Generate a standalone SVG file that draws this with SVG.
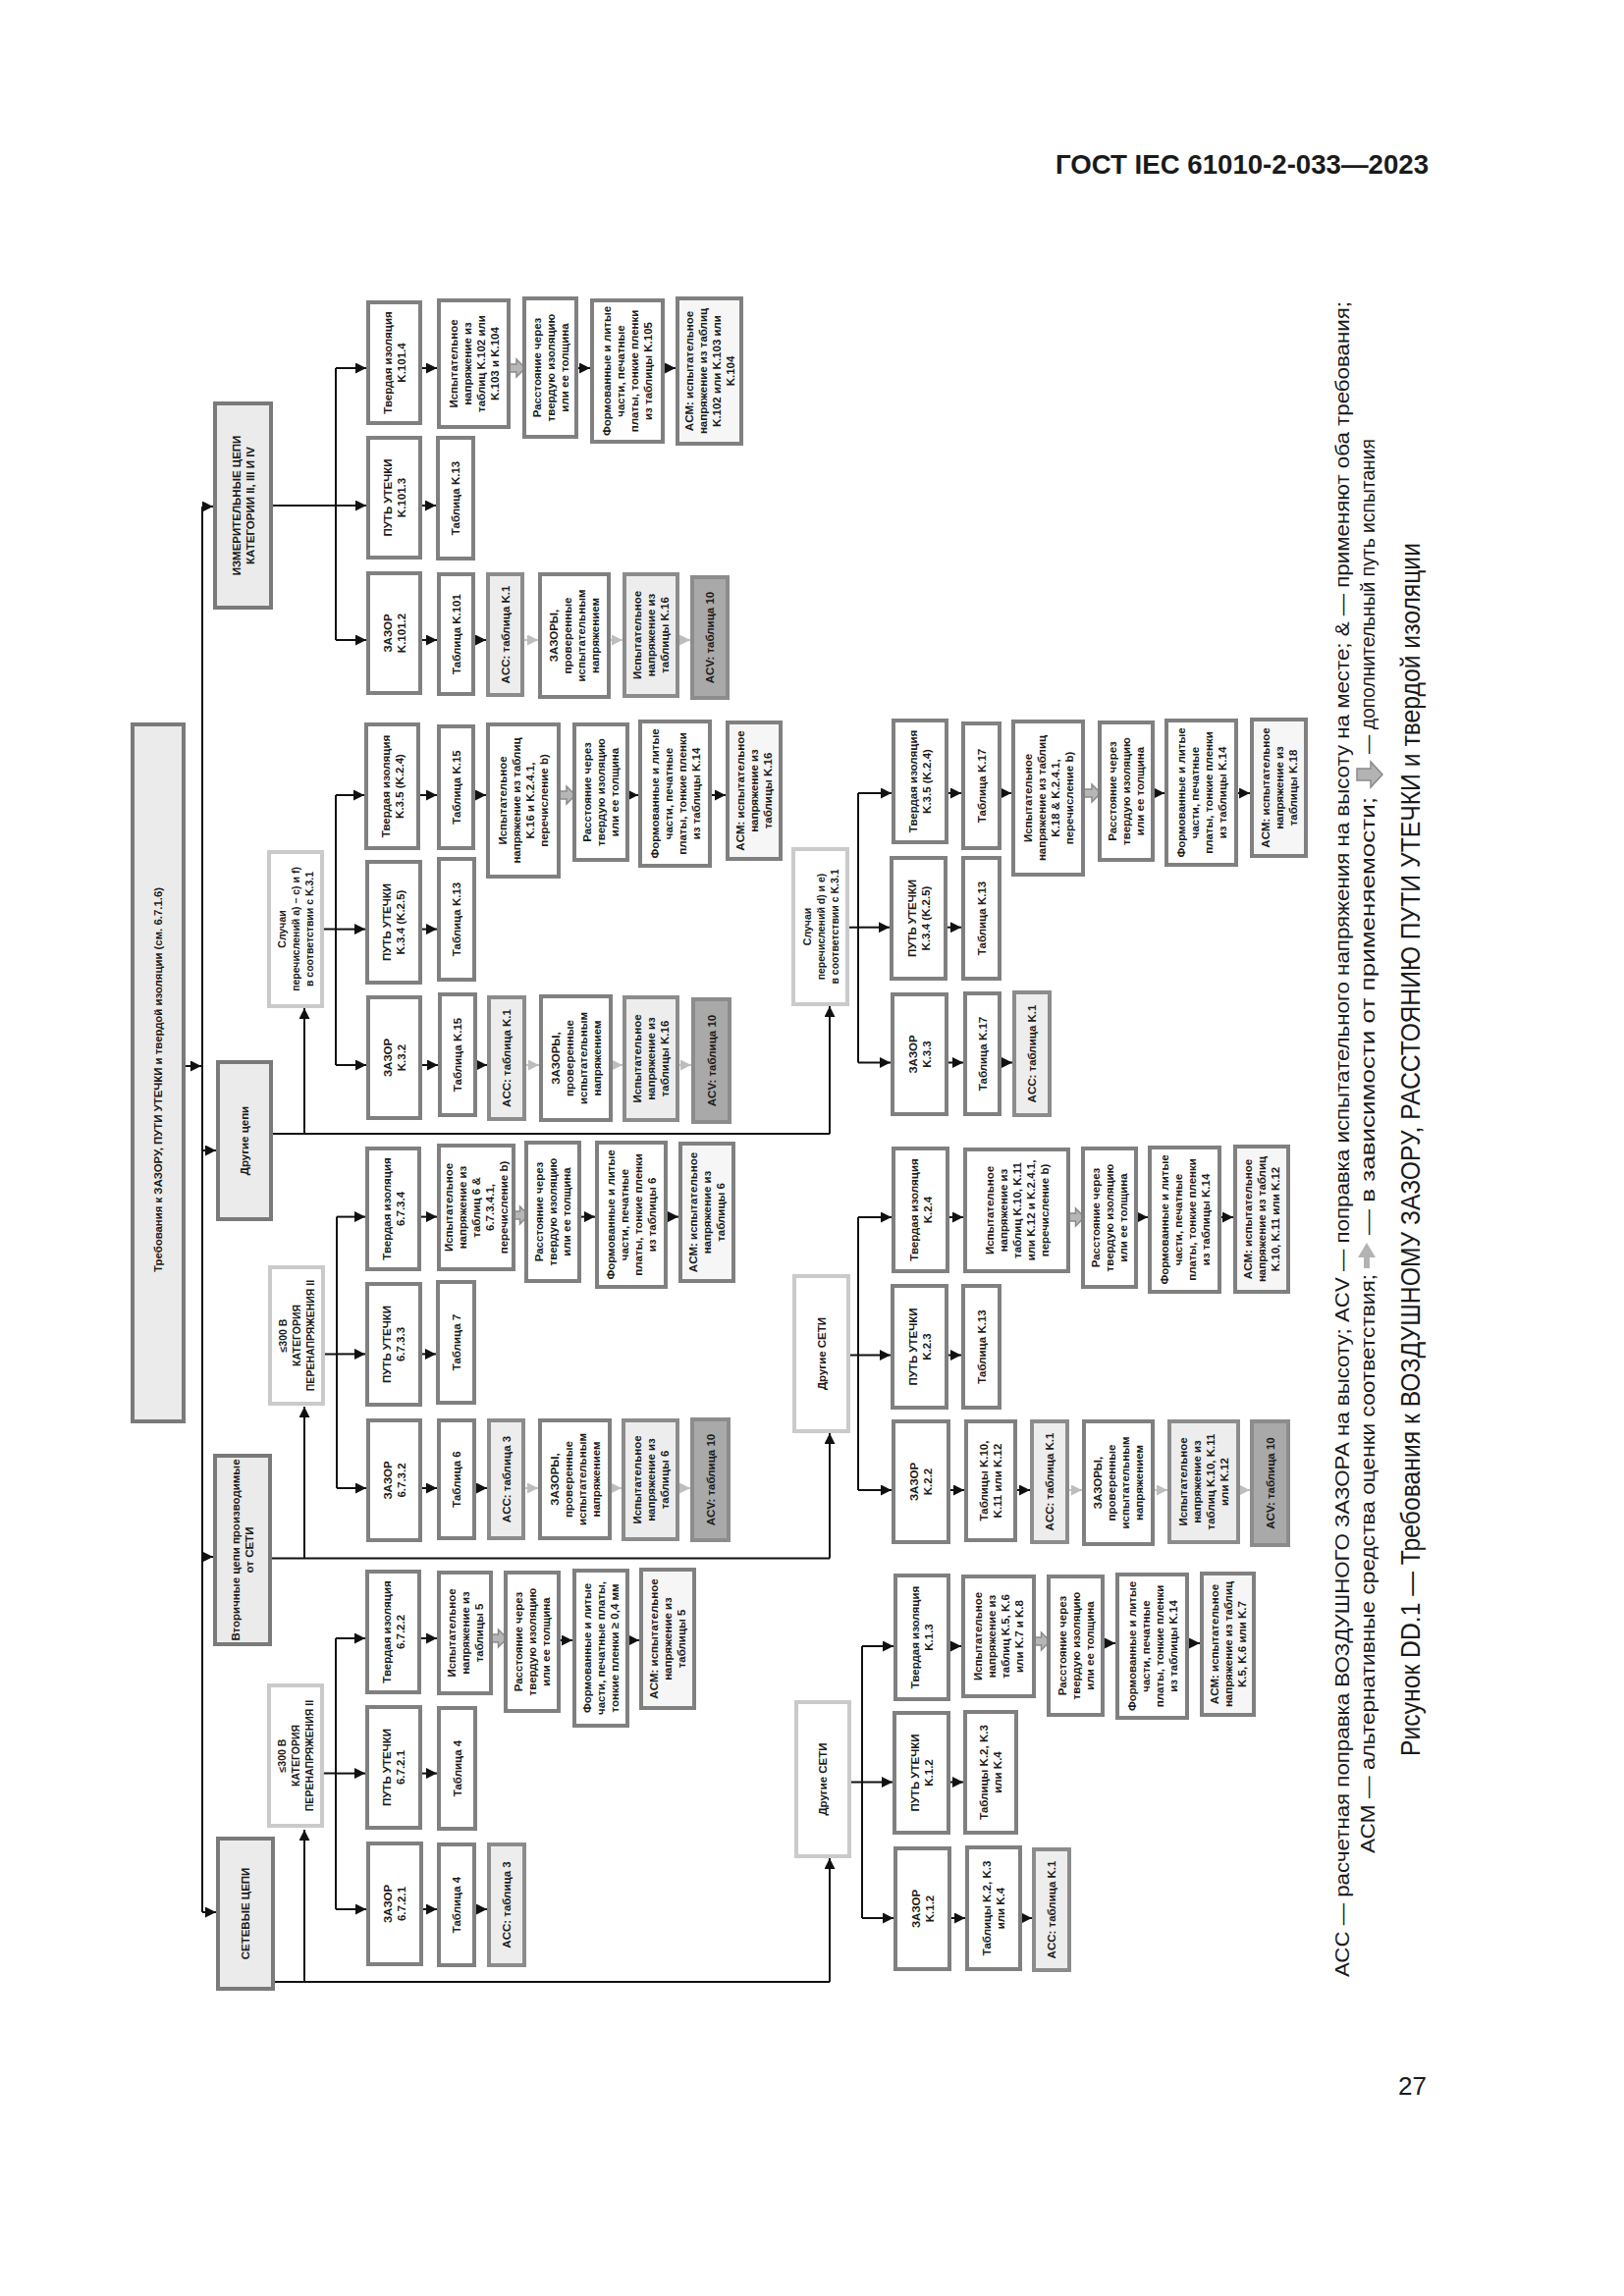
<svg xmlns="http://www.w3.org/2000/svg" xmlns:xlink="http://www.w3.org/1999/xlink" width="1654" height="2339" viewBox="0 0 1654 2339">
<defs>
<style>
.b{fill:#fff;stroke:#808080;stroke-width:4}
.a{fill:#f6f6f6;stroke:#808080;stroke-width:4}
.l{fill:#ededed;stroke:#8c8c8c;stroke-width:4}
.c{fill:#ebebeb;stroke:#7a7a7a;stroke-width:4}
.s{fill:#fff;stroke:#cacaca;stroke-width:4}
.v{fill:#a9a9a9;stroke:#8c8c8c;stroke-width:4}
.t{font-family:"Liberation Sans",Arial,sans-serif;font-weight:bold;font-size:11.5px;text-anchor:middle;fill:#1a1a1a}
.ts{font-size:10.5px}
.k{stroke:#111;stroke-width:2;fill:none}
.ka{stroke:#111;stroke-width:2;fill:none;marker-end:url(#ah)}
.ga{stroke:#c4c4c4;stroke-width:2;fill:none;marker-end:url(#gh)}
.bg{fill:#b6b6b6;stroke:#8a8a8a;stroke-width:1.5}
.cap{font-family:"Liberation Sans Narrow","Liberation Sans",Arial,sans-serif;fill:#1a1a1a}
</style>
<marker id="ah" markerUnits="userSpaceOnUse" markerWidth="12" markerHeight="11" refX="11" refY="5.5" orient="auto"><path d="M0,0 L11,5.5 L0,11 Z" fill="#111"/></marker>
<marker id="gh" markerUnits="userSpaceOnUse" markerWidth="12" markerHeight="11" refX="11" refY="5.5" orient="auto"><path d="M0,0 L11,5.5 L0,11 Z" fill="#bdbdbd"/></marker>
<path id="ba" d="M-9,-4 H0 V-9 L9,0 L0,9 V4 H-9 Z"/>
</defs>
<rect width="1654" height="2339" fill="#fff"/>

<text x="1075" y="177" font-family="Liberation Sans,Arial,sans-serif" font-weight="bold" font-size="28" textLength="380" lengthAdjust="spacingAndGlyphs" fill="#1a1a1a">ГОСТ IEC 61010-2-033—2023</text>
<text x="1453" y="2134" text-anchor="end" font-family="Liberation Sans,Arial,sans-serif" font-size="26" fill="#1a1a1a">27</text>

<g id="connectors">
<path class="k" d="M206,516 V1948"/>
<path class="ka" d="M187,1086 H205"/>
<path class="ka" d="M206,516 H217"/>
<path class="ka" d="M206,1172 H220"/>
<path class="ka" d="M206,1586 H217"/>
<path class="ka" d="M206,1948 H220"/>
<path class="k" d="M276,515 H342 M342,375 V652"/>
<path class="ka" d="M342,375 H373"/>
<path class="ka" d="M342,515 H373"/>
<path class="ka" d="M342,652 H373"/>
<path class="ka" d="M428,375 H445"/>
<use xlink:href="#ba" class="bg" x="526" y="375"/>
<path class="ka" d="M587,375 H601"/>
<path class="ka" d="M675,375 H688"/>
<path class="ka" d="M428,515 H444"/>
<path class="ka" d="M428,652 H445"/>
<path class="ka" d="M482,652 H495"/>
<path class="ga" d="M532,652 H548"/>
<path class="ga" d="M620,652 H634"/>
<path class="ga" d="M690,652 H703"/>
<path class="k" d="M276,1155 H845"/>
<path class="ka" d="M310,1155 V1027"/>
<path class="ka" d="M845,1155 V1025"/>
<path class="k" d="M328,946.6 H342 M342,810 V1085"/>
<path class="ka" d="M342,810 H371"/>
<path class="ka" d="M342,946.6 H372"/>
<path class="ka" d="M342,1085 H373"/>
<path class="ka" d="M426,810 H445"/>
<path class="ka" d="M482,810 H495"/>
<use xlink:href="#ba" class="bg" x="577" y="810"/>
<path class="ka" d="M639,810 H650"/>
<path class="ka" d="M723,810 H739"/>
<path class="ka" d="M428,946.6 H445"/>
<path class="ka" d="M428,1085 H446"/>
<path class="ka" d="M484,1085 H496"/>
<path class="ga" d="M534,1085 H549"/>
<path class="ga" d="M622,1085 H634"/>
<path class="ga" d="M690,1085 H704"/>
<path class="k" d="M863,944.7 H874 M874,808 V1082.5"/>
<path class="ka" d="M874,808 H908"/>
<path class="ka" d="M874,944.7 H906"/>
<path class="ka" d="M874,1082.5 H907"/>
<path class="ka" d="M964,808 H979"/>
<path class="ka" d="M1018,808 H1030"/>
<use xlink:href="#ba" class="bg" x="1112" y="808"/>
<path class="ka" d="M1174,808 H1186"/>
<path class="ka" d="M1259,808 H1273"/>
<path class="ka" d="M963,944.7 H979"/>
<path class="ka" d="M964,1082.5 H981"/>
<path class="ka" d="M1018,1082.5 H1031"/>
<path class="k" d="M275,1587.5 H845"/>
<path class="ka" d="M310,1587.5 V1433"/>
<path class="ka" d="M845,1587.5 V1460"/>
<path class="k" d="M329,1379.4 H343 M343,1239.6 V1516"/>
<path class="ka" d="M343,1239.6 H372"/>
<path class="ka" d="M343,1379.4 H372"/>
<path class="ka" d="M343,1516 H373"/>
<path class="ka" d="M427,1239.6 H445"/>
<use xlink:href="#ba" class="bg" x="529.5" y="1238"/>
<path class="ka" d="M590,1239.6 H606"/>
<path class="ka" d="M678,1239.6 H691"/>
<path class="ka" d="M428,1379.4 H444"/>
<path class="ka" d="M428,1516 H445"/>
<path class="ka" d="M483,1516 H496"/>
<path class="ga" d="M533,1516 H548"/>
<path class="ga" d="M621,1516 H633"/>
<path class="ga" d="M690,1516 H703"/>
<path class="k" d="M864,1380.5 H874 M874,1240 V1518"/>
<path class="ka" d="M874,1240 H908"/>
<path class="ka" d="M874,1380.5 H907"/>
<path class="ka" d="M874,1518 H908"/>
<path class="ka" d="M965,1240 H981"/>
<use xlink:href="#ba" class="bg" x="1095.5" y="1240"/>
<path class="ka" d="M1157,1240 H1169"/>
<path class="ka" d="M1242,1240 H1256"/>
<path class="ka" d="M964,1380.5 H979"/>
<path class="ka" d="M966,1518 H982"/>
<path class="ka" d="M1034,1518 H1049"/>
<path class="ga" d="M1087,1518 H1102"/>
<path class="ga" d="M1174,1518 H1189"/>
<path class="ga" d="M1261,1518 H1273"/>
<path class="k" d="M278,2019 H845"/>
<path class="ka" d="M310,2019 V1864"/>
<path class="ka" d="M845,2019 V1893"/>
<path class="k" d="M328,1806.6 H342 M342,1669 V1945"/>
<path class="ka" d="M342,1669 H372"/>
<path class="ka" d="M342,1806.6 H372"/>
<path class="ka" d="M342,1945 H373"/>
<path class="ka" d="M427,1669 H445"/>
<use xlink:href="#ba" class="bg" x="507.5" y="1669"/>
<path class="ka" d="M569,1671 H583"/>
<path class="ka" d="M639,1671 H651"/>
<path class="ka" d="M428,1806.6 H445"/>
<path class="ka" d="M429,1945 H445"/>
<path class="ka" d="M483,1945 H496"/>
<path class="k" d="M865,1815.5 H878 M878,1677 V1954"/>
<path class="ka" d="M878,1677 H910"/>
<path class="ka" d="M878,1815.5 H909"/>
<path class="ka" d="M878,1954 H910"/>
<path class="ka" d="M966,1677 H979"/>
<use xlink:href="#ba" class="bg" x="1060.5" y="1672"/>
<path class="ka" d="M1123,1674 H1136"/>
<path class="ka" d="M1209,1674 H1222"/>
<path class="ka" d="M966,1815.5 H981"/>
<path class="ka" d="M967,1954 H983"/>
<path class="ka" d="M1039,1954 H1051"/>
</g>

<g id="R"><rect class="c" x="135" y="738" width="52" height="710"/><text class="t ts" transform="translate(161,1100) rotate(-90)"><tspan x="0" y="4" textLength="392" lengthAdjust="spacingAndGlyphs">Требования к ЗАЗОРУ, ПУТИ УТЕЧКИ и твердой изоляции (см. 6.7.1.6)</tspan></text></g>

<g id="M0"><rect class="c" x="219" y="411" width="57" height="208"/><text class="t" transform="translate(247.5,515) rotate(-90)"><tspan x="0" y="-3">ИЗМЕРИТЕЛЬНЫЕ ЦЕПИ</tspan><tspan x="0" y="11">КАТЕГОРИИ II, III И IV</tspan></text></g>
<g id="M1"><rect class="b" x="375" y="308" width="53" height="123"/><text class="t" transform="translate(401.5,369.5) rotate(-90)"><tspan x="0" y="-3">Твердая изоляция</tspan><tspan x="0" y="11">K.101.4</tspan></text></g>
<g id="M2"><rect class="b" x="447" y="306" width="71" height="129"/><text class="t" transform="translate(482.5,370.5) rotate(-90)"><tspan x="0" y="-17">Испытательное</tspan><tspan x="0" y="-3">напряжение из</tspan><tspan x="0" y="11">таблиц K.102 или</tspan><tspan x="0" y="25">K.103 и K.104</tspan></text></g>
<g id="M3"><rect class="b" x="534" y="304" width="53" height="141"/><text class="t" transform="translate(560.5,374.5) rotate(-90)"><tspan x="0" y="-10">Расстояние через</tspan><tspan x="0" y="4">твердую изоляцию</tspan><tspan x="0" y="18">или ее толщина</tspan></text></g>
<g id="M4"><rect class="b" x="603" y="306" width="72" height="144"/><text class="t" transform="translate(639,378) rotate(-90)"><tspan x="0" y="-17">Формованные и литые</tspan><tspan x="0" y="-3">части, печатные</tspan><tspan x="0" y="11">платы, тонкие пленки</tspan><tspan x="0" y="25">из таблицы K.105</tspan></text></g>
<g id="M5"><rect class="a" x="690" y="304" width="65" height="148"/><text class="t" transform="translate(722.5,378) rotate(-90)"><tspan x="0" y="-17">ACM: испытательное</tspan><tspan x="0" y="-3">напряжение из таблиц</tspan><tspan x="0" y="11">K.102 или K.103 или</tspan><tspan x="0" y="25">K.104</tspan></text></g>
<g id="M6"><rect class="b" x="375" y="446" width="53" height="122"/><text class="t" transform="translate(401.5,507) rotate(-90)"><tspan x="0" y="-3">ПУТЬ УТЕЧКИ</tspan><tspan x="0" y="11">K.101.3</tspan></text></g>
<g id="M7"><rect class="b" x="446" y="446" width="36" height="123"/><text class="t" transform="translate(464,507.5) rotate(-90)"><tspan x="0" y="4">Таблица K.13</tspan></text></g>
<g id="M8"><rect class="b" x="375" y="584" width="53" height="122"/><text class="t" transform="translate(401.5,645) rotate(-90)"><tspan x="0" y="-3">ЗАЗОР</tspan><tspan x="0" y="11">K.101.2</tspan></text></g>
<g id="M9"><rect class="b" x="447" y="585" width="35" height="122"/><text class="t" transform="translate(464.5,646) rotate(-90)"><tspan x="0" y="4">Таблица K.101</tspan></text></g>
<g id="M10"><rect class="l" x="497" y="585" width="35" height="123"/><text class="t" transform="translate(514.5,646.5) rotate(-90)"><tspan x="0" y="4">ACC: таблица K.1</tspan></text></g>
<g id="M11"><rect class="b" x="550" y="585" width="70" height="125"/><text class="t" transform="translate(585,647.5) rotate(-90)"><tspan x="0" y="-17">ЗАЗОРЫ,</tspan><tspan x="0" y="-3">проверенные</tspan><tspan x="0" y="11">испытательным</tspan><tspan x="0" y="25">напряжением</tspan></text></g>
<g id="M12"><rect class="l" x="636" y="585" width="54" height="124"/><text class="t" transform="translate(663,647) rotate(-90)"><tspan x="0" y="-10">Испытательное</tspan><tspan x="0" y="4">напряжение из</tspan><tspan x="0" y="18">таблицы K.16</tspan></text></g>
<g id="M13"><rect class="v" x="705" y="588" width="36" height="123"/><text class="t" transform="translate(723,649.5) rotate(-90)"><tspan x="0" y="4">ACV: таблица 10</tspan></text></g>

<g id="D0"><rect class="c" x="222" y="1082" width="54" height="160"/><text class="t" transform="translate(249,1162) rotate(-90)"><tspan x="0" y="4">Другие цепи</tspan></text></g>
<g id="D1"><rect class="s" x="274" y="868" width="54" height="157"/><text class="t ts" transform="translate(301,946.5) rotate(-90)"><tspan x="0" y="-10">Случаи</tspan><tspan x="0" y="4">перечислений a) – c) и f)</tspan><tspan x="0" y="18">в соответствии с K.3.1</tspan></text></g>
<g id="D2"><rect class="b" x="373" y="738" width="53" height="126"/><text class="t" transform="translate(399.5,801) rotate(-90)"><tspan x="0" y="-3">Твердая изоляция</tspan><tspan x="0" y="11">K.3.5 (K.2.4)</tspan></text></g>
<g id="D3"><rect class="b" x="447" y="740" width="35" height="124"/><text class="t" transform="translate(464.5,802) rotate(-90)"><tspan x="0" y="4">Таблица K.15</tspan></text></g>
<g id="D4"><rect class="b" x="497" y="738" width="72" height="155"/><text class="t" transform="translate(533,815.5) rotate(-90)"><tspan x="0" y="-17">Испытательное</tspan><tspan x="0" y="-3">напряжение из таблиц</tspan><tspan x="0" y="11">K.16 и K.2.4.1,</tspan><tspan x="0" y="25">перечисление b)</tspan></text></g>
<g id="D5"><rect class="b" x="585" y="738" width="54" height="138"/><text class="t" transform="translate(612,807) rotate(-90)"><tspan x="0" y="-10">Расстояние через</tspan><tspan x="0" y="4">твердую изоляцию</tspan><tspan x="0" y="18">или ее толщина</tspan></text></g>
<g id="D6"><rect class="b" x="652" y="735" width="71" height="147"/><text class="t" transform="translate(687.5,808.5) rotate(-90)"><tspan x="0" y="-17">Формованные и литые</tspan><tspan x="0" y="-3">части, печатные</tspan><tspan x="0" y="11">платы, тонкие пленки</tspan><tspan x="0" y="25">из таблицы K.14</tspan></text></g>
<g id="D7"><rect class="a" x="741" y="736" width="54" height="139"/><text class="t" transform="translate(768,805.5) rotate(-90)"><tspan x="0" y="-10">ACM: испытательное</tspan><tspan x="0" y="4">напряжение из</tspan><tspan x="0" y="18">таблицы K.16</tspan></text></g>
<g id="D8"><rect class="b" x="374" y="878" width="54" height="123"/><text class="t" transform="translate(401,939.5) rotate(-90)"><tspan x="0" y="-3">ПУТЬ УТЕЧКИ</tspan><tspan x="0" y="11">K.3.4 (K.2.5)</tspan></text></g>
<g id="D9"><rect class="b" x="447" y="875" width="36" height="123"/><text class="t" transform="translate(465,936.5) rotate(-90)"><tspan x="0" y="4">Таблица K.13</tspan></text></g>
<g id="D10"><rect class="b" x="375" y="1016" width="53" height="123"/><text class="t" transform="translate(401.5,1077.5) rotate(-90)"><tspan x="0" y="-3">ЗАЗОР</tspan><tspan x="0" y="11">K.3.2</tspan></text></g>
<g id="D11"><rect class="b" x="448" y="1013" width="36" height="123"/><text class="t" transform="translate(466,1074.5) rotate(-90)"><tspan x="0" y="4">Таблица K.15</tspan></text></g>
<g id="D12"><rect class="l" x="498" y="1016" width="36" height="124"/><text class="t" transform="translate(516,1078) rotate(-90)"><tspan x="0" y="4">ACC: таблица K.1</tspan></text></g>
<g id="D13"><rect class="b" x="551" y="1015" width="71" height="126"/><text class="t" transform="translate(586.5,1078) rotate(-90)"><tspan x="0" y="-17">ЗАЗОРЫ,</tspan><tspan x="0" y="-3">проверенные</tspan><tspan x="0" y="11">испытательным</tspan><tspan x="0" y="25">напряжением</tspan></text></g>
<g id="D14"><rect class="l" x="636" y="1016" width="54" height="125"/><text class="t" transform="translate(663,1078.5) rotate(-90)"><tspan x="0" y="-10">Испытательное</tspan><tspan x="0" y="4">напряжение из</tspan><tspan x="0" y="18">таблицы K.16</tspan></text></g>
<g id="D15"><rect class="v" x="706" y="1018" width="37" height="125"/><text class="t" transform="translate(724.5,1080.5) rotate(-90)"><tspan x="0" y="4">ACV: таблица 10</tspan></text></g>
<g id="D16"><rect class="s" x="808" y="865" width="55" height="158"/><text class="t ts" transform="translate(835.5,944) rotate(-90)"><tspan x="0" y="-10">Случаи</tspan><tspan x="0" y="4">перечислений d) и e)</tspan><tspan x="0" y="18">в соответствии с K.3.1</tspan></text></g>
<g id="D17"><rect class="b" x="910" y="734" width="54" height="124"/><text class="t" transform="translate(937,796) rotate(-90)"><tspan x="0" y="-3">Твердая изоляция</tspan><tspan x="0" y="11">K.3.5 (K.2.4)</tspan></text></g>
<g id="D18"><rect class="b" x="981" y="737" width="37" height="127"/><text class="t" transform="translate(999.5,800.5) rotate(-90)"><tspan x="0" y="4">Таблица K.17</tspan></text></g>
<g id="D19"><rect class="b" x="1032" y="735" width="71" height="156"/><text class="t" transform="translate(1067.5,813) rotate(-90)"><tspan x="0" y="-17">Испытательное</tspan><tspan x="0" y="-3">напряжение из таблиц</tspan><tspan x="0" y="11">K.18 &amp; K.2.4.1,</tspan><tspan x="0" y="25">перечисление b)</tspan></text></g>
<g id="D20"><rect class="b" x="1120" y="736" width="54" height="140"/><text class="t" transform="translate(1147,806) rotate(-90)"><tspan x="0" y="-10">Расстояние через</tspan><tspan x="0" y="4">твердую изоляцию</tspan><tspan x="0" y="18">или ее толщина</tspan></text></g>
<g id="D21"><rect class="b" x="1188" y="734" width="71" height="147"/><text class="t" transform="translate(1223.5,807.5) rotate(-90)"><tspan x="0" y="-17">Формованные и литые</tspan><tspan x="0" y="-3">части, печатные</tspan><tspan x="0" y="11">платы, тонкие пленки</tspan><tspan x="0" y="25">из таблицы K.14</tspan></text></g>
<g id="D22"><rect class="a" x="1275" y="733" width="55" height="139"/><text class="t" transform="translate(1302.5,802.5) rotate(-90)"><tspan x="0" y="-10">ACM: испытательное</tspan><tspan x="0" y="4">напряжение из</tspan><tspan x="0" y="18">таблицы K.18</tspan></text></g>
<g id="D23"><rect class="b" x="908" y="874" width="55" height="123"/><text class="t" transform="translate(935.5,935.5) rotate(-90)"><tspan x="0" y="-3">ПУТЬ УТЕЧКИ</tspan><tspan x="0" y="11">K.3.4 (K.2.5)</tspan></text></g>
<g id="D24"><rect class="b" x="981" y="874" width="37" height="123"/><text class="t" transform="translate(999.5,935.5) rotate(-90)"><tspan x="0" y="4">Таблица K.13</tspan></text></g>
<g id="D25"><rect class="b" x="909" y="1013" width="55" height="122"/><text class="t" transform="translate(936.5,1074) rotate(-90)"><tspan x="0" y="-3">ЗАЗОР</tspan><tspan x="0" y="11">K.3.3</tspan></text></g>
<g id="D26"><rect class="b" x="983" y="1012" width="35" height="123"/><text class="t" transform="translate(1000.5,1073.5) rotate(-90)"><tspan x="0" y="4">Таблица K.17</tspan></text></g>
<g id="D27"><rect class="l" x="1033" y="1011" width="36" height="125"/><text class="t" transform="translate(1051,1073.5) rotate(-90)"><tspan x="0" y="4">ACC: таблица K.1</tspan></text></g>

<g id="S0"><rect class="c" x="219" y="1483" width="56" height="192"/><text class="t" transform="translate(247,1579) rotate(-90)"><tspan x="0" y="-3">Вторичные цепи производимые</tspan><tspan x="0" y="11">от СЕТИ</tspan></text></g>
<g id="S1"><rect class="s" x="275" y="1291" width="54" height="139"/><text class="t ts" transform="translate(302,1360.5) rotate(-90)"><tspan x="0" y="-10">≤300 В</tspan><tspan x="0" y="4">КАТЕГОРИЯ</tspan><tspan x="0" y="18">ПЕРЕНАПРЯЖЕНИЯ II</tspan></text></g>
<g id="S2"><rect class="b" x="374" y="1170" width="53" height="123"/><text class="t" transform="translate(400.5,1231.5) rotate(-90)"><tspan x="0" y="-3">Твердая изоляция</tspan><tspan x="0" y="11">6.7.3.4</tspan></text></g>
<g id="S3"><rect class="b" x="447" y="1167" width="76" height="126"/><text class="t" transform="translate(485,1230) rotate(-90)"><tspan x="0" y="-24">Испытательное</tspan><tspan x="0" y="-10">напряжение из</tspan><tspan x="0" y="4">таблиц 6 &amp;</tspan><tspan x="0" y="18">6.7.3.4.1,</tspan><tspan x="0" y="32">перечисление b)</tspan></text></g>
<g id="S4"><rect class="b" x="536" y="1164" width="54" height="141"/><text class="t" transform="translate(563,1234.5) rotate(-90)"><tspan x="0" y="-10">Расстояние через</tspan><tspan x="0" y="4">твердую изоляцию</tspan><tspan x="0" y="18">или ее толщина</tspan></text></g>
<g id="S5"><rect class="b" x="608" y="1164" width="70" height="147"/><text class="t" transform="translate(643,1237.5) rotate(-90)"><tspan x="0" y="-17">Формованные и литые</tspan><tspan x="0" y="-3">части, печатные</tspan><tspan x="0" y="11">платы, тонкие пленки</tspan><tspan x="0" y="25">из таблицы 6</tspan></text></g>
<g id="S6"><rect class="a" x="693" y="1165" width="54" height="140"/><text class="t" transform="translate(720,1235) rotate(-90)"><tspan x="0" y="-10">ACM: испытательное</tspan><tspan x="0" y="4">напряжение из</tspan><tspan x="0" y="18">таблицы 6</tspan></text></g>
<g id="S7"><rect class="b" x="374" y="1308" width="54" height="123"/><text class="t" transform="translate(401,1369.5) rotate(-90)"><tspan x="0" y="-3">ПУТЬ УТЕЧКИ</tspan><tspan x="0" y="11">6.7.3.3</tspan></text></g>
<g id="S8"><rect class="b" x="446" y="1306" width="37" height="123"/><text class="t" transform="translate(464.5,1367.5) rotate(-90)"><tspan x="0" y="4">Таблица 7</tspan></text></g>
<g id="S9"><rect class="b" x="375" y="1447" width="53" height="122"/><text class="t" transform="translate(401.5,1508) rotate(-90)"><tspan x="0" y="-3">ЗАЗОР</tspan><tspan x="0" y="11">6.7.3.2</tspan></text></g>
<g id="S10"><rect class="b" x="447" y="1447" width="36" height="120"/><text class="t" transform="translate(465,1507) rotate(-90)"><tspan x="0" y="4">Таблица 6</tspan></text></g>
<g id="S11"><rect class="l" x="498" y="1447" width="35" height="120"/><text class="t" transform="translate(515.5,1507) rotate(-90)"><tspan x="0" y="4">ACC: таблица 3</tspan></text></g>
<g id="S12"><rect class="b" x="550" y="1447" width="71" height="120"/><text class="t" transform="translate(585.5,1507) rotate(-90)"><tspan x="0" y="-17">ЗАЗОРЫ,</tspan><tspan x="0" y="-3">проверенные</tspan><tspan x="0" y="11">испытательным</tspan><tspan x="0" y="25">напряжением</tspan></text></g>
<g id="S13"><rect class="l" x="635" y="1447" width="55" height="121"/><text class="t" transform="translate(662.5,1507.5) rotate(-90)"><tspan x="0" y="-10">Испытательное</tspan><tspan x="0" y="4">напряжение из</tspan><tspan x="0" y="18">таблицы 6</tspan></text></g>
<g id="S14"><rect class="v" x="705" y="1446" width="37" height="123"/><text class="t" transform="translate(723.5,1507.5) rotate(-90)"><tspan x="0" y="4">ACV: таблица 10</tspan></text></g>
<g id="S15"><rect class="s" x="809" y="1300" width="55" height="158"/><text class="t" transform="translate(836.5,1379) rotate(-90)"><tspan x="0" y="4">Другие СЕТИ</tspan></text></g>
<g id="S16"><rect class="b" x="910" y="1170" width="55" height="125"/><text class="t" transform="translate(937.5,1232.5) rotate(-90)"><tspan x="0" y="-3">Твердая изоляция</tspan><tspan x="0" y="11">K.2.4</tspan></text></g>
<g id="S17"><rect class="b" x="983" y="1171" width="105" height="124"/><text class="t" transform="translate(1035.5,1233) rotate(-90)"><tspan x="0" y="-24">Испытательное</tspan><tspan x="0" y="-10">напряжение из</tspan><tspan x="0" y="4">таблиц K.10, K.11</tspan><tspan x="0" y="18">или K.12 и K.2.4.1,</tspan><tspan x="0" y="32">перечисление b)</tspan></text></g>
<g id="S18"><rect class="b" x="1103" y="1170" width="54" height="141"/><text class="t" transform="translate(1130,1240.5) rotate(-90)"><tspan x="0" y="-10">Расстояние через</tspan><tspan x="0" y="4">твердую изоляцию</tspan><tspan x="0" y="18">или ее толщина</tspan></text></g>
<g id="S19"><rect class="b" x="1171" y="1169" width="71" height="147"/><text class="t" transform="translate(1206.5,1242.5) rotate(-90)"><tspan x="0" y="-17">Формованные и литые</tspan><tspan x="0" y="-3">части, печатные</tspan><tspan x="0" y="11">платы, тонкие пленки</tspan><tspan x="0" y="25">из таблицы K.14</tspan></text></g>
<g id="S20"><rect class="a" x="1258" y="1168" width="54" height="148"/><text class="t" transform="translate(1285,1242) rotate(-90)"><tspan x="0" y="-10">ACM: испытательное</tspan><tspan x="0" y="4">напряжение из таблиц</tspan><tspan x="0" y="18">K.10, K.11 или K.12</tspan></text></g>
<g id="S21"><rect class="b" x="909" y="1310" width="55" height="124"/><text class="t" transform="translate(936.5,1372) rotate(-90)"><tspan x="0" y="-3">ПУТЬ УТЕЧКИ</tspan><tspan x="0" y="11">K.2.3</tspan></text></g>
<g id="S22"><rect class="b" x="981" y="1310" width="37" height="124"/><text class="t" transform="translate(999.5,1372) rotate(-90)"><tspan x="0" y="4">Таблица K.13</tspan></text></g>
<g id="S23"><rect class="b" x="910" y="1448" width="56" height="123"/><text class="t" transform="translate(938,1509.5) rotate(-90)"><tspan x="0" y="-3">ЗАЗОР</tspan><tspan x="0" y="11">K.2.2</tspan></text></g>
<g id="S24"><rect class="b" x="984" y="1448" width="50" height="121"/><text class="t" transform="translate(1009,1508.5) rotate(-90)"><tspan x="0" y="-3">Таблицы K.10,</tspan><tspan x="0" y="11">K.11 или K.12</tspan></text></g>
<g id="S25"><rect class="l" x="1051" y="1448" width="36" height="123"/><text class="t" transform="translate(1069,1509.5) rotate(-90)"><tspan x="0" y="4">ACC: таблица K.1</tspan></text></g>
<g id="S26"><rect class="b" x="1104" y="1448" width="70" height="125"/><text class="t" transform="translate(1139,1510.5) rotate(-90)"><tspan x="0" y="-17">ЗАЗОРЫ,</tspan><tspan x="0" y="-3">проверенные</tspan><tspan x="0" y="11">испытательным</tspan><tspan x="0" y="25">напряжением</tspan></text></g>
<g id="S27"><rect class="l" x="1191" y="1448" width="70" height="123"/><text class="t" transform="translate(1226,1509.5) rotate(-90)"><tspan x="0" y="-17">Испытательное</tspan><tspan x="0" y="-3">напряжение из</tspan><tspan x="0" y="11">таблиц K.10, K.11</tspan><tspan x="0" y="25">или K.12</tspan></text></g>
<g id="S28"><rect class="v" x="1275" y="1448" width="37" height="126"/><text class="t" transform="translate(1293.5,1511) rotate(-90)"><tspan x="0" y="4">ACV: таблица 10</tspan></text></g>

<g id="N0"><rect class="c" x="222" y="1873" width="56" height="153"/><text class="t" transform="translate(250,1949.5) rotate(-90)"><tspan x="0" y="4">СЕТЕВЫЕ ЦЕПИ</tspan></text></g>
<g id="N1"><rect class="s" x="274" y="1717" width="54" height="143"/><text class="t ts" transform="translate(301,1788.5) rotate(-90)"><tspan x="0" y="-10">≤300 В</tspan><tspan x="0" y="4">КАТЕГОРИЯ</tspan><tspan x="0" y="18">ПЕРЕНАПРЯЖЕНИЯ II</tspan></text></g>
<g id="N2"><rect class="b" x="374" y="1601" width="53" height="123"/><text class="t" transform="translate(400.5,1662.5) rotate(-90)"><tspan x="0" y="-3">Твердая изоляция</tspan><tspan x="0" y="11">6.7.2.2</tspan></text></g>
<g id="N3"><rect class="b" x="447" y="1602" width="53" height="123"/><text class="t" transform="translate(473.5,1663.5) rotate(-90)"><tspan x="0" y="-10">Испытательное</tspan><tspan x="0" y="4">напряжение из</tspan><tspan x="0" y="18">таблицы 5</tspan></text></g>
<g id="N4"><rect class="b" x="515" y="1602" width="54" height="141"/><text class="t" transform="translate(542,1672.5) rotate(-90)"><tspan x="0" y="-10">Расстояние через</tspan><tspan x="0" y="4">твердую изоляцию</tspan><tspan x="0" y="18">или ее толщина</tspan></text></g>
<g id="N5"><rect class="b" x="585" y="1600" width="54" height="158"/><text class="t" transform="translate(612,1679) rotate(-90)"><tspan x="0" y="-10">Формованные и литые</tspan><tspan x="0" y="4">части, печатные платы,</tspan><tspan x="0" y="18">тонкие пленки ≥ 0,4 мм</tspan></text></g>
<g id="N6"><rect class="a" x="653" y="1599" width="54" height="141"/><text class="t" transform="translate(680,1669.5) rotate(-90)"><tspan x="0" y="-10">ACM: испытательное</tspan><tspan x="0" y="4">напряжение из</tspan><tspan x="0" y="18">таблицы 5</tspan></text></g>
<g id="N7"><rect class="b" x="374" y="1739" width="54" height="123"/><text class="t" transform="translate(401,1800.5) rotate(-90)"><tspan x="0" y="-3">ПУТЬ УТЕЧКИ</tspan><tspan x="0" y="11">6.7.2.1</tspan></text></g>
<g id="N8"><rect class="b" x="447" y="1740" width="37" height="123"/><text class="t" transform="translate(465.5,1801.5) rotate(-90)"><tspan x="0" y="4">Таблица 4</tspan></text></g>
<g id="N9"><rect class="b" x="375" y="1878" width="54" height="123"/><text class="t" transform="translate(402,1939.5) rotate(-90)"><tspan x="0" y="-3">ЗАЗОР</tspan><tspan x="0" y="11">6.7.2.1</tspan></text></g>
<g id="N10"><rect class="b" x="447" y="1879" width="36" height="123"/><text class="t" transform="translate(465,1940.5) rotate(-90)"><tspan x="0" y="4">Таблица 4</tspan></text></g>
<g id="N11"><rect class="l" x="498" y="1879" width="36" height="123"/><text class="t" transform="translate(516,1940.5) rotate(-90)"><tspan x="0" y="4">ACC: таблица 3</tspan></text></g>
<g id="N12"><rect class="s" x="811" y="1734" width="54" height="157"/><text class="t" transform="translate(838,1812.5) rotate(-90)"><tspan x="0" y="4">Другие СЕТИ</tspan></text></g>
<g id="N13"><rect class="b" x="912" y="1605" width="54" height="126"/><text class="t" transform="translate(939,1668) rotate(-90)"><tspan x="0" y="-3">Твердая изоляция</tspan><tspan x="0" y="11">K.1.3</tspan></text></g>
<g id="N14"><rect class="b" x="981" y="1606" width="72" height="122"/><text class="t" transform="translate(1017,1667) rotate(-90)"><tspan x="0" y="-17">Испытательное</tspan><tspan x="0" y="-3">напряжение из</tspan><tspan x="0" y="11">таблиц K.5, K.6</tspan><tspan x="0" y="25">или K.7 и K.8</tspan></text></g>
<g id="N15"><rect class="b" x="1068" y="1606" width="55" height="141"/><text class="t" transform="translate(1095.5,1676.5) rotate(-90)"><tspan x="0" y="-10">Расстояние через</tspan><tspan x="0" y="4">твердую изоляцию</tspan><tspan x="0" y="18">или ее толщина</tspan></text></g>
<g id="N16"><rect class="b" x="1138" y="1604" width="71" height="146"/><text class="t" transform="translate(1173.5,1677) rotate(-90)"><tspan x="0" y="-17">Формованные и литые</tspan><tspan x="0" y="-3">части, печатные</tspan><tspan x="0" y="11">платы, тонкие пленки</tspan><tspan x="0" y="25">из таблицы K.14</tspan></text></g>
<g id="N17"><rect class="a" x="1224" y="1603" width="53" height="144"/><text class="t" transform="translate(1250.5,1675) rotate(-90)"><tspan x="0" y="-10">ACM: испытательное</tspan><tspan x="0" y="4">напряжение из таблиц</tspan><tspan x="0" y="18">K.5, K.6 или K.7</tspan></text></g>
<g id="N18"><rect class="b" x="911" y="1745" width="55" height="122"/><text class="t" transform="translate(938.5,1806) rotate(-90)"><tspan x="0" y="-3">ПУТЬ УТЕЧКИ</tspan><tspan x="0" y="11">K.1.2</tspan></text></g>
<g id="N19"><rect class="b" x="983" y="1744" width="52" height="123"/><text class="t" transform="translate(1009,1805.5) rotate(-90)"><tspan x="0" y="-3">Таблицы K.2, K.3</tspan><tspan x="0" y="11">или K.4</tspan></text></g>
<g id="N20"><rect class="b" x="912" y="1883" width="55" height="123"/><text class="t" transform="translate(939.5,1944.5) rotate(-90)"><tspan x="0" y="-3">ЗАЗОР</tspan><tspan x="0" y="11">K.1.2</tspan></text></g>
<g id="N21"><rect class="b" x="985" y="1882" width="54" height="124"/><text class="t" transform="translate(1012,1944) rotate(-90)"><tspan x="0" y="-3">Таблицы K.2, K.3</tspan><tspan x="0" y="11">или K.4</tspan></text></g>
<g id="N22"><rect class="l" x="1053" y="1884" width="36" height="123"/><text class="t" transform="translate(1071,1945.5) rotate(-90)"><tspan x="0" y="4">ACC: таблица K.1</tspan></text></g>

<g id="caption">
<text class="cap" font-size="21" transform="translate(1374,2014) rotate(-90)" textLength="1707" lengthAdjust="spacingAndGlyphs">АСС — расчетная поправка ВОЗДУШНОГО ЗАЗОРА на высоту; ACV — поправка испытательного напряжения на высоту на месте; &amp; — применяют оба требования;</text>
<text class="cap" font-size="21" transform="translate(1400,1888) rotate(-90)" textLength="590" lengthAdjust="spacingAndGlyphs">АСМ — альтернативные средства оценки соответствия;</text>
<path d="M1392,1266 L1401,1281 H1395 V1292 H1389 V1281 H1383 Z" fill="#b3b3b3"/>
<text class="cap" font-size="21" transform="translate(1400,1258) rotate(-90)" textLength="446" lengthAdjust="spacingAndGlyphs">— в зависимости от применяемости;</text>
<path d="M1382,783 H1396 V776 L1408,789 L1396,802 V795 H1382 Z" fill="#b3b3b3" stroke="#8a8a8a" stroke-width="1.5"/>
<text class="cap" font-size="21" transform="translate(1400,768) rotate(-90)" textLength="321" lengthAdjust="spacingAndGlyphs">— дополнительный путь испытания</text>
<text class="cap" font-size="27" transform="translate(1446,1789) rotate(-90)" textLength="1236" lengthAdjust="spacingAndGlyphs">Рисунок DD.1 — Требования к ВОЗДУШНОМУ ЗАЗОРУ, РАССТОЯНИЮ ПУТИ УТЕЧКИ и твердой изоляции</text>
</g>
</svg>
